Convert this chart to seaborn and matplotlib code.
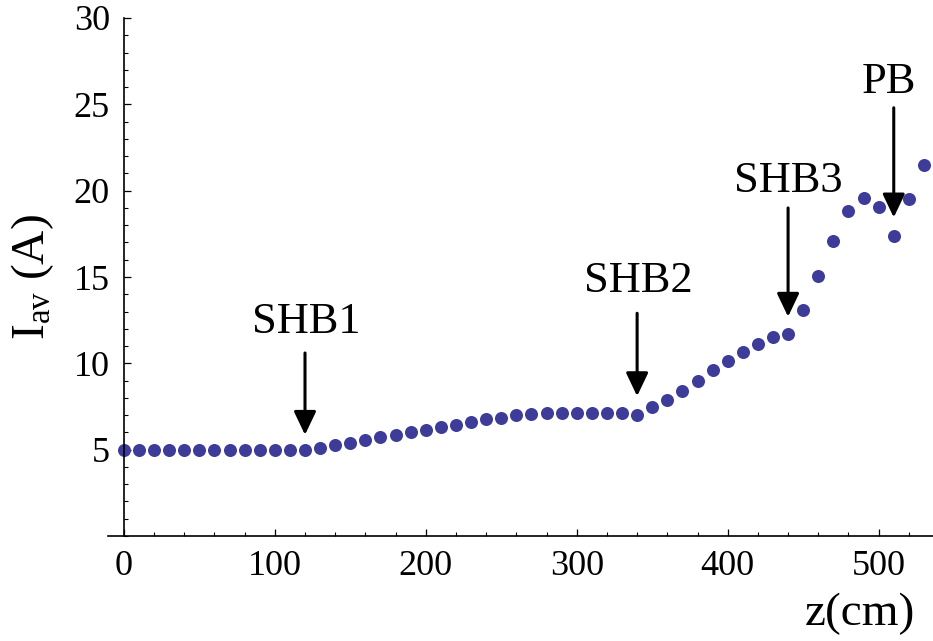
import numpy as np
import pandas as pd
import seaborn as sns
import matplotlib.pyplot as plt
from matplotlib.ticker import MultipleLocator, FixedLocator

# data
z_cm = [0, 10, 20, 30, 40, 50, 60, 70, 80, 90, 100, 110, 120, 130, 140, 150, 160, 170,
        180, 190, 200, 210, 220, 230, 240, 250, 260, 270, 280, 290, 300, 310, 320, 330,
        340, 350, 360, 370, 380, 390, 400, 410, 420, 430, 440, 450, 460, 470, 480, 490,
        500, 510, 520, 530]
i_av = [5.0, 5.0, 5.0, 5.0, 5.0, 5.0, 5.0, 5.0, 5.0, 5.0, 5.0, 5.0, 5.0, 5.09, 5.26, 5.41,
        5.55, 5.72, 5.86, 6.0, 6.15, 6.31, 6.44, 6.6, 6.75, 6.86, 6.98, 7.04, 7.1, 7.1, 7.1,
        7.1, 7.1, 7.1, 7.03, 7.5, 7.89, 8.41, 9.0, 9.6, 10.15, 10.66, 11.12, 11.5, 11.67,
        13.1, 15.05, 17.1, 18.8, 19.56, 19.05, 17.4, 19.5, 21.47]

labels = ["SHB1", "SHB2", "SHB3", "PB"]
label_z = [120, 340, 440, 510]

df = pd.DataFrame({"z": z_cm, "I": i_av})

sns.set_style("ticks")
plt.rcParams["font.family"] = ["Liberation Serif", "DejaVu Serif"]
plt.rcParams["mathtext.fontset"] = "custom"
plt.rcParams["mathtext.rm"] = "Liberation Serif"
plt.rcParams["mathtext.it"] = "Liberation Serif:italic"
for k in ["text.color", "axes.labelcolor", "xtick.color", "ytick.color", "axes.edgecolor"]:
    plt.rcParams[k] = "black"

fig = plt.figure(figsize=(9.33, 6.41), dpi=100)
ax = fig.add_axes([108 / 933, 105 / 641, 825 / 933, 518 / 641])

sns.scatterplot(data=df, x="z", y="I", ax=ax, color="#3d3d99", s=88, linewidth=0,
                legend=False, clip_on=False)

ax.set_xlim(-10.5, 536)
ax.set_ylim(0, 30)

# Mathematica-like axes crossing at origin
for s in ["top", "right"]:
    ax.spines[s].set_visible(False)
ax.spines["left"].set_position(("data", 0))
ax.spines["left"].set_linewidth(1.2)
ax.spines["bottom"].set_linewidth(1.2)

ax.xaxis.set_major_locator(FixedLocator([0, 100, 200, 300, 400, 500]))
ax.xaxis.set_minor_locator(MultipleLocator(20))
ax.yaxis.set_major_locator(FixedLocator([5, 10, 15, 20, 25, 30]))
ax.yaxis.set_minor_locator(MultipleLocator(1))
ax.tick_params(which="major", direction="in", length=5, width=0.9, labelsize=26)
ax.tick_params(which="minor", direction="in", length=3, width=0.8)
ax.tick_params(axis="x", pad=10)
ax.tick_params(axis="y", pad=10)

ax.set_xlabel("z(cm)", fontsize=34)
ax.xaxis.set_label_coords(0.9115, -0.15)
ax.xaxis.label.set_va("center")
ax.set_ylabel(r"I$_{\mathrm{av}}$ (A)", fontsize=34)
ax.yaxis.set_label_coords(-0.091, 0.5)
ax.yaxis.label.set_va("center")

# arrows + labels (text x, text y, arrow tail y, arrow tip y)
text_pos = [(121, 12.4, 10.6, 5.86), (341, 14.76, 12.9, 8.1),
            (440, 20.56, 19.0, 12.7), (507, 26.3, 24.8, 18.45)]
for lab, zx, (tx, ty, tail, tip) in zip(labels, label_z, text_pos):
    ax.text(tx, ty, lab, ha="center", va="center", fontsize=32)
    ax.annotate("", xy=(zx, tip), xytext=(zx, tail),
                arrowprops=dict(arrowstyle="-|>,head_length=0.42,head_width=0.2",
                                mutation_scale=34, lw=2.2, color="black",
                                shrinkA=0, shrinkB=0))

fig.savefig("out.png", dpi=100)
